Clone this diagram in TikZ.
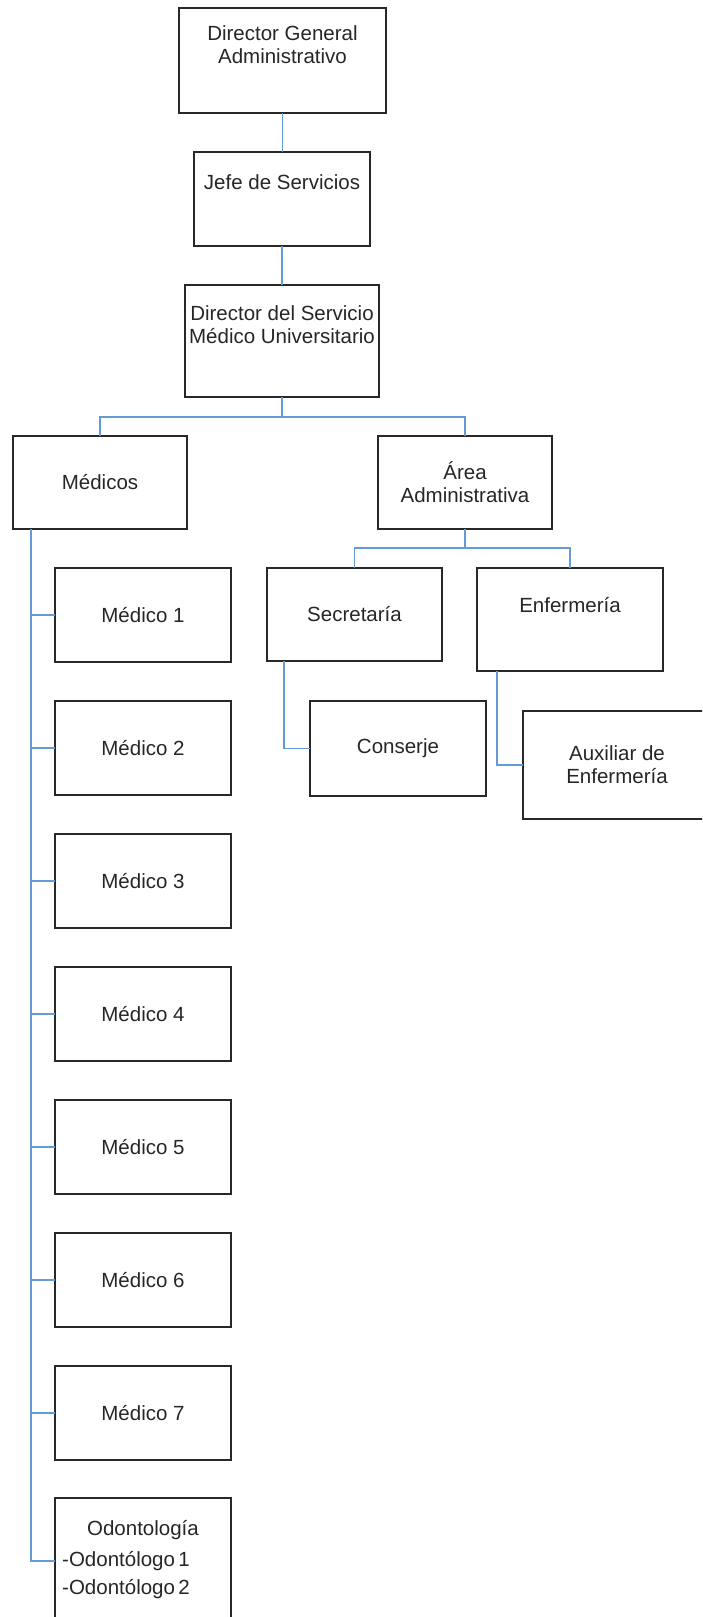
\documentclass[tikz,border=0pt]{standalone}
\usepackage{fontspec}
\setmainfont{Liberation Sans}
\usetikzlibrary{positioning,calc}

\definecolor{linkblue}{RGB}{100,155,212}
\definecolor{boxline}{RGB}{40,40,40}

\begin{document}
\begin{tikzpicture}
                    [x=1pt,y=-1pt,
                     box/.style={draw=boxline,line width=1.4pt,anchor=north west,inner sep=0pt,outer sep=0pt,
                                 align=center,font=\fontsize{20.5}{23}\selectfont,text=black!85},
                     txt/.style={align=center,font=\fontsize{20.5}{23}\selectfont,text=black!85,inner sep=0pt},
                     link/.style={draw=linkblue,line width=1.5pt}]

                        \path[use as bounding box] (0,0) rectangle (702,1617);
                        \clip (0,0) rectangle (702,1617);

                        % cabeza
                        \node[box,minimum width=207pt,minimum height=105pt,
                              label={[txt,anchor=north,yshift=-17pt]north:Director General\\Administrativo}] (dga) at (179,8) {};
                        \node[box,minimum width=176pt,minimum height=94pt,
                              label={[txt,anchor=north,yshift=-22pt]north:Jefe de Servicios}] (jefe) at (194,152) {};
                        \node[box,minimum width=194pt,minimum height=112pt,
                              label={[txt,anchor=north,yshift=-20pt]north:Director del Servicio\\Médico Universitario}] (dsmu) at (185,285) {};

                        \node[box,minimum width=174pt,minimum height=93pt] (medicos) at (13,436) {Médicos};
                        \node[box,minimum width=174pt,minimum height=93pt] (area) at (378,436) {Área\\Administrativa};

                        % area administrativa
                        \node[box,minimum width=175pt,minimum height=93pt] (secre) at (267,568) {Secretaría};
                        \node[box,minimum width=186pt,minimum height=103pt,
                              label={[txt,anchor=north,yshift=-29pt]north:Enfermería}] (enfer) at (477,568) {};
                        \node[box,minimum width=176pt,minimum height=95pt] (conserje) at (310,701) {Conserje};
                        \node[box,minimum width=188pt,minimum height=108pt] (aux) at (523,711) {Auxiliar de\\Enfermería};

                        % medicos
                        \foreach \i in {1,...,7}
                            \node[box,minimum width=176pt,minimum height=94pt] (m\i) at (55,{568+133*(\i-1)}) {Médico \i};
                        \node[box,minimum width=176pt,minimum height=126pt,
                              label={[txt,anchor=north,yshift=-22pt]north:Odontología},
                              label={[txt,align=left,anchor=north west,xshift=7pt,yshift=-53pt]north west:-Odontólogo\,1\\[5pt]-Odontólogo\,2}] (odon) at (55,1498) {};

                        \draw[link] (dga.south) -- (dga.south |- jefe.north);
                        \draw[link] (jefe.south) -- (jefe.south |- dsmu.north);
                        \draw[link] (dsmu.south) -- ++(0,20) coordinate (bus1) -| (medicos.north);
                        \draw[link] (bus1) -| (area.north);
                        \draw[link] (area.south) -- ++(0,19) coordinate (bus2) -| (secre.north);
                        \draw[link] (bus2) -| (enfer.north);
                        \draw[link] ([xshift=17pt]secre.south west) |- (conserje.west);
                        \draw[link] ([xshift=20pt]enfer.south west) |- (aux.west);

                        \draw[link] ([xshift=18pt]medicos.south west) coordinate (trunk) |- (odon.west);
                        \foreach \i in {1,...,7}
                            \draw[link] (trunk |- m\i.west) -- (m\i.west);

                \end{tikzpicture}
\end{document}
